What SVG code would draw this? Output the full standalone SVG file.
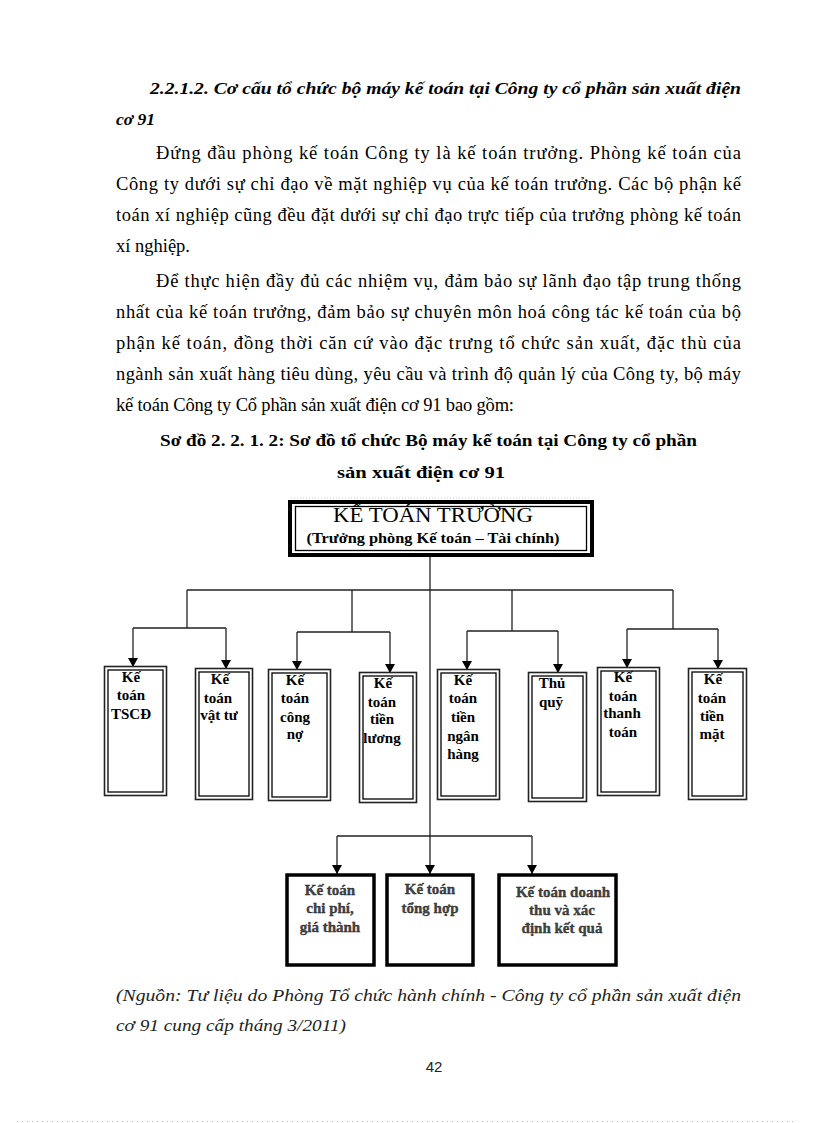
<svg xmlns="http://www.w3.org/2000/svg" width="816" height="1123" viewBox="0 0 816 1123">
<style>
.t{font-family:"Liberation Serif","Times New Roman",serif;fill:#000}
.body{font-size:18.5px}
.h{font-size:17.5px;font-weight:bold;font-style:italic}
.cap{font-size:17px;font-weight:bold}
.src{font-size:17.5px;font-style:italic;fill:#222}
.lbl{font-family:"Liberation Serif","Times New Roman",serif;font-size:15px;font-weight:bold;fill:#000;text-anchor:middle}
.lbl2{font-family:"Liberation Serif","Times New Roman",serif;font-size:15px;font-weight:bold;fill:#444;stroke:#222;stroke-width:0.3;text-anchor:middle}
.bo{fill:#fff;stroke:#222;stroke-width:1.6}
.bi{fill:none;stroke:#000;stroke-width:1.3}
.bb{fill:#fff;stroke:#000;stroke-width:3.5}
.ln{fill:none;stroke:#222;stroke-width:1.3}
</style>
<defs>
<marker id="ar" markerUnits="userSpaceOnUse" markerWidth="9" markerHeight="10" refX="9" refY="5" orient="auto" viewBox="0 0 9 10">
<path d="M0,0 L9,5 L0,10 Z" fill="#000"/>
</marker>
</defs>
<rect width="816" height="1123" fill="#fff"/>

<g id="page-text">
<text class="t h" x="150" y="94" textLength="591" lengthAdjust="spacingAndGlyphs">2.2.1.2. Cơ cấu tổ chức bộ máy kế toán tại Công ty cổ phần sản xuất điện</text>
<text class="t h" x="116" y="125">cơ 91</text>
<text class="t body" x="156" y="159" textLength="585" lengthAdjust="spacing">Đứng đầu phòng kế toán Công ty là kế toán trưởng. Phòng kế toán của</text>
<text class="t body" x="116" y="190" textLength="625" lengthAdjust="spacing">Công ty dưới sự chỉ đạo về mặt nghiệp vụ của kế toán trưởng. Các bộ phận kế</text>
<text class="t body" x="116" y="221" textLength="625" lengthAdjust="spacing">toán xí nghiệp  cũng đều đặt dưới sự chỉ đạo trực tiếp của trưởng phòng kế toán</text>
<text class="t body" x="116" y="252">xí nghiệp.</text>
<text class="t body" x="156" y="287" textLength="585" lengthAdjust="spacing">Để thực hiện đầy đủ các nhiệm vụ, đảm bảo sự lãnh đạo tập trung thống</text>
<text class="t body" x="116" y="318" textLength="625" lengthAdjust="spacing">nhất của kế toán trưởng, đảm bảo sự chuyên môn hoá công tác kế toán của bộ</text>
<text class="t body" x="116" y="349" textLength="625" lengthAdjust="spacing">phận kế toán, đồng thời căn cứ vào đặc trưng tổ chức sản xuất, đặc thù của</text>
<text class="t body" x="116" y="380" textLength="625" lengthAdjust="spacing">ngành sản xuất hàng tiêu dùng, yêu cầu và trình độ quản lý của Công ty, bộ máy</text>
<text class="t body" x="116" y="411" textLength="398" lengthAdjust="spacing">kế toán Công ty Cổ phần sản xuất điện cơ 91 bao gồm:</text>
<text class="t cap" x="160" y="446" textLength="537" lengthAdjust="spacingAndGlyphs">Sơ đồ 2. 2. 1. 2: Sơ đồ tổ chức Bộ máy kế toán tại Công ty cổ phần</text>
<text class="t cap" x="337" y="478" textLength="168" lengthAdjust="spacingAndGlyphs">sản xuất điện cơ 91</text>
<text class="t src" x="116" y="1001" textLength="625" lengthAdjust="spacingAndGlyphs">(Nguồn: Tư liệu do Phòng Tổ chức hành chính - Công ty cổ phần sản xuất điện</text>
<text class="t src" x="116" y="1031" textLength="230" lengthAdjust="spacingAndGlyphs">cơ 91 cung cấp tháng 3/2011)</text>
<text x="434" y="1072" text-anchor="middle" font-family="Liberation Sans, Arial, sans-serif" font-size="15" fill="#222">42</text>
<line x1="291" y1="498" x2="591" y2="498" stroke="#ccc" stroke-width="1" stroke-dasharray="1 2"/>
<line x1="17" y1="1121.5" x2="793" y2="1121.5" stroke="#bbb" stroke-width="1" stroke-dasharray="1 4"/>
</g>

<g id="connectors">
<path class="ln" d="M430,557 V874" marker-end="url(#ar)"/>
<path class="ln" d="M187,590 H673"/>
<path class="ln" d="M187,590 V628 M352,590 V632 M512,590 V631 M673,590 V629"/>
<path class="ln" d="M133,628 H226 M297,632 H390 M467,631 H558 M627,629 H718"/>
<path class="ln" d="M133,628 V667" marker-end="url(#ar)"/>
<path class="ln" d="M226,628 V669" marker-end="url(#ar)"/>
<path class="ln" d="M297,632 V670" marker-end="url(#ar)"/>
<path class="ln" d="M390,632 V673" marker-end="url(#ar)"/>
<path class="ln" d="M467,631 V670" marker-end="url(#ar)"/>
<path class="ln" d="M558,631 V673" marker-end="url(#ar)"/>
<path class="ln" d="M627,629 V668" marker-end="url(#ar)"/>
<path class="ln" d="M718,629 V669" marker-end="url(#ar)"/>
<path class="ln" d="M337,836 H532"/>
<path class="ln" d="M337,836 V874" marker-end="url(#ar)"/>
<path class="ln" d="M532,836 V874" marker-end="url(#ar)"/>
</g>

<g id="ke-toan-truong">
<rect x="290" y="502" width="302" height="53" fill="#fff" stroke="#000" stroke-width="4"/>
<rect x="295.5" y="506.5" width="291" height="44" fill="none" stroke="#000" stroke-width="1.3"/>
<text x="433" y="522" text-anchor="middle" font-family="Liberation Serif, Times New Roman, serif" font-size="21" textLength="200" lengthAdjust="spacingAndGlyphs">KẾ TOÁN TRƯỞNG</text>
<text x="433" y="543" text-anchor="middle" font-family="Liberation Serif, Times New Roman, serif" font-size="14.5" font-weight="bold" textLength="253" lengthAdjust="spacingAndGlyphs">(Trưởng phòng Kế toán – Tài chính)</text>
</g>

<g id="kt-tscd">
<rect class="bo" x="104.5" y="666.5" width="62" height="129"/>
<rect class="bi" x="108" y="670" width="55" height="122"/>
<text class="lbl"><tspan x="131" y="682">Kế</tspan><tspan x="131" y="700">toán</tspan><tspan x="131" y="719">TSCĐ</tspan></text>
</g>
<g id="kt-vat-tu">
<rect class="bo" x="195.5" y="668.5" width="57" height="131"/>
<rect class="bi" x="199" y="672" width="50" height="124"/>
<text class="lbl"><tspan x="220" y="684">Kế</tspan><tspan x="218" y="703">toán</tspan><tspan x="219" y="720">vật tư</tspan></text>
</g>
<g id="kt-cong-no">
<rect class="bo" x="268.5" y="669.5" width="62" height="131" stroke-width="2"/>
<rect class="bi" x="272" y="673" width="55" height="124"/>
<text class="lbl"><tspan x="295" y="685">Kế</tspan><tspan x="295" y="703">toán</tspan><tspan x="295" y="722">công</tspan><tspan x="295" y="739">nợ</tspan></text>
</g>
<g id="kt-tien-luong">
<rect class="bo" x="359.5" y="672.5" width="57" height="130" stroke-width="2"/>
<rect class="bi" x="363" y="676" width="50" height="123"/>
<text class="lbl"><tspan x="383" y="688">Kế</tspan><tspan x="382" y="707">toán</tspan><tspan x="382" y="724">tiền</tspan><tspan x="382" y="743">lương</tspan></text>
</g>
<g id="kt-tien-ngan-hang">
<rect class="bo" x="437.5" y="669.5" width="62" height="130" stroke-width="2"/>
<rect class="bi" x="441" y="673" width="55" height="123"/>
<text class="lbl"><tspan x="463" y="685">Kế</tspan><tspan x="463" y="703">toán</tspan><tspan x="463" y="722">tiền</tspan><tspan x="463" y="741">ngân</tspan><tspan x="463" y="759">hàng</tspan></text>
</g>
<g id="thu-quy">
<rect class="bo" x="528.5" y="672.5" width="58" height="129" stroke-width="2"/>
<rect class="bi" x="532" y="676" width="51" height="122"/>
<text class="lbl"><tspan x="552" y="688">Thủ</tspan><tspan x="551" y="707">quỹ</tspan></text>
</g>
<g id="kt-thanh-toan">
<rect class="bo" x="597.5" y="667.5" width="62" height="128"/>
<rect class="bi" x="601" y="671" width="55" height="121"/>
<text class="lbl"><tspan x="623" y="682">Kế</tspan><tspan x="623" y="701">toán</tspan><tspan x="622" y="718">thanh</tspan><tspan x="623" y="737">toán</tspan></text>
</g>
<g id="kt-tien-mat">
<rect class="bo" x="688.5" y="668.5" width="58" height="131"/>
<rect class="bi" x="692" y="672" width="51" height="124"/>
<text class="lbl"><tspan x="713" y="684">Kế</tspan><tspan x="712" y="703">toán</tspan><tspan x="712" y="721">tiền</tspan><tspan x="712" y="739">mặt</tspan></text>
</g>

<g id="kt-chi-phi">
<rect class="bb" x="287" y="875" width="87" height="90"/>
<text class="lbl2"><tspan x="330" y="895">Kế toán</tspan><tspan x="330" y="913">chi phí,</tspan><tspan x="330" y="932">giá thành</tspan></text>
</g>
<g id="kt-tong-hop">
<rect class="bb" x="387" y="875" width="86" height="90"/>
<text class="lbl2"><tspan x="430" y="894">Kế toán</tspan><tspan x="430" y="913">tổng hợp</tspan></text>
</g>
<g id="kt-doanh-thu">
<rect class="bb" x="499" y="875" width="117" height="90"/>
<text class="lbl2"><tspan x="563" y="897">Kế toán doanh</tspan><tspan x="562" y="915">thu và xác</tspan><tspan x="562" y="933">định kết quả</tspan></text>
</g>
</svg>
